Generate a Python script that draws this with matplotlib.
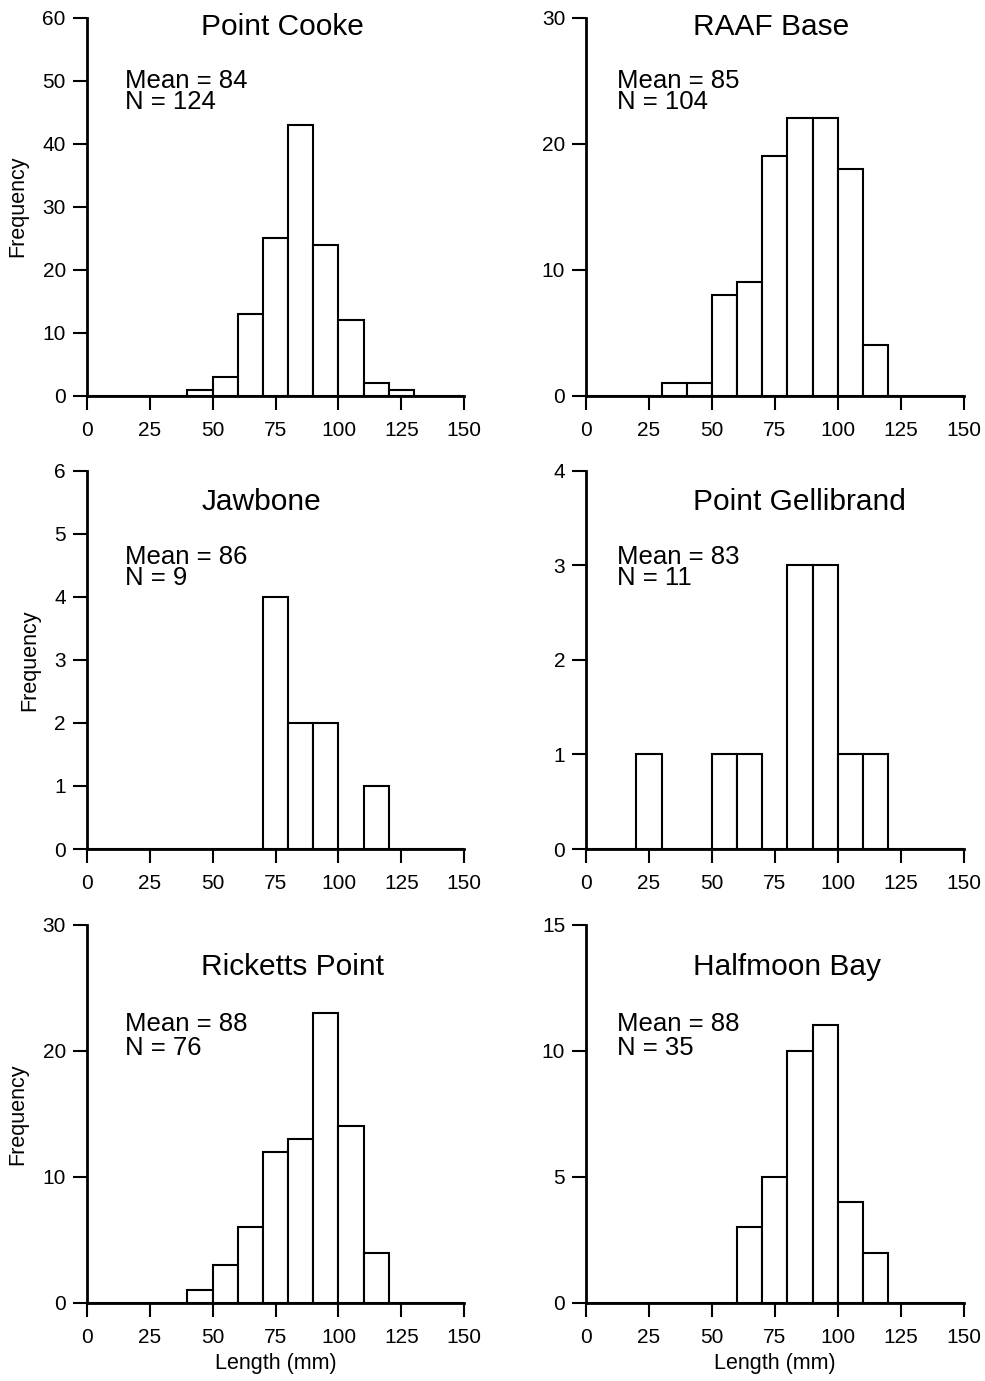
import numpy as np
import matplotlib
matplotlib.use("Agg")
import matplotlib.pyplot as plt

plt.rcParams['font.family'] = ['Liberation Sans', 'DejaVu Sans']

# bin left edges (10 mm bins, 0-150)
bin_edges = np.arange(0, 150, 10)

sites = ["Point Cooke", "RAAF Base", "Jawbone", "Point Gellibrand",
         "Ricketts Point", "Halfmoon Bay"]
means = [84, 85, 86, 83, 88, 88]
ns = [124, 104, 9, 11, 76, 35]

# counts per bin: 0,10,20,...,140
point_cooke = [0, 0, 0, 0, 1, 3, 13, 25, 43, 24, 12, 2, 1, 0, 0]
raaf_base = [0, 0, 0, 1, 1, 8, 9, 19, 22, 22, 18, 4, 0, 0, 0]
jawbone = [0, 0, 0, 0, 0, 0, 0, 4, 2, 2, 0, 1, 0, 0, 0]
point_gellibrand = [0, 0, 1, 0, 0, 1, 1, 0, 3, 3, 1, 1, 0, 0, 0]
ricketts_point = [0, 0, 0, 0, 1, 3, 6, 12, 13, 23, 14, 4, 0, 0, 0]
halfmoon_bay = [0, 0, 0, 0, 0, 0, 3, 5, 10, 11, 4, 2, 0, 0, 0]
counts = [point_cooke, raaf_base, jawbone, point_gellibrand,
          ricketts_point, halfmoon_bay]

y_max = [60, 30, 6, 4, 30, 15]
y_step = [10, 10, 1, 1, 10, 5]

fig = plt.figure(figsize=(9.85, 13.81), dpi=100)

# axes placement in figure fractions
col_x = [0.088, 0.595]
col_w = 0.3834
row_y = [0.7133, 0.3852, 0.0565]
row_h = 0.274

# text positions (axes fraction) per row / column
title_y = [0.953, 0.897, 0.868]
stat_y = [0.757, 0.697, 0.656]   # baseline of the "N = " line
stat_sp = [0.88, 0.86, 1.0]      # line spacing of the two stat lines
title_x = [0.304, 0.283]
mean_x = [0.101, 0.081]

for i in range(6):
    r, c = divmod(i, 2)
    ax = fig.add_axes([col_x[c], row_y[r], col_w, row_h])
    ax.bar(bin_edges, counts[i], width=10, align='edge', facecolor='white',
           edgecolor='black', linewidth=1.5, zorder=3, clip_on=False)
    ax.set_xlim(0, 150)
    ax.set_ylim(0, y_max[i])
    ax.set_xticks([0, 25, 50, 75, 100, 125, 150])
    ax.set_yticks(np.arange(0, y_max[i] + 1, y_step[i]))
    for s in ['top', 'right']:
        ax.spines[s].set_visible(False)
    for s in ['left', 'bottom']:
        ax.spines[s].set_linewidth(2)
    ax.tick_params(axis='both', direction='out', length=10, width=1.5,
                   labelsize=15)
    ax.tick_params(axis='x', pad=8)
    ax.tick_params(axis='y', pad=5)
    if c == 0:
        ax.set_ylabel("Frequency", fontsize=15.5, labelpad=10)
    if r == 2:
        ax.set_xlabel("Length (mm)", fontsize=15.5, labelpad=4)
    ax.text(title_x[c], title_y[r], sites[i], transform=ax.transAxes,
            ha='left', va='baseline', fontsize=21.5)
    ax.text(mean_x[c], stat_y[r], "Mean = %d\nN = %d" % (means[i], ns[i]),
            transform=ax.transAxes, ha='left', va='baseline', fontsize=18.5,
            linespacing=stat_sp[r])

fig.savefig("out.png", dpi=100)
